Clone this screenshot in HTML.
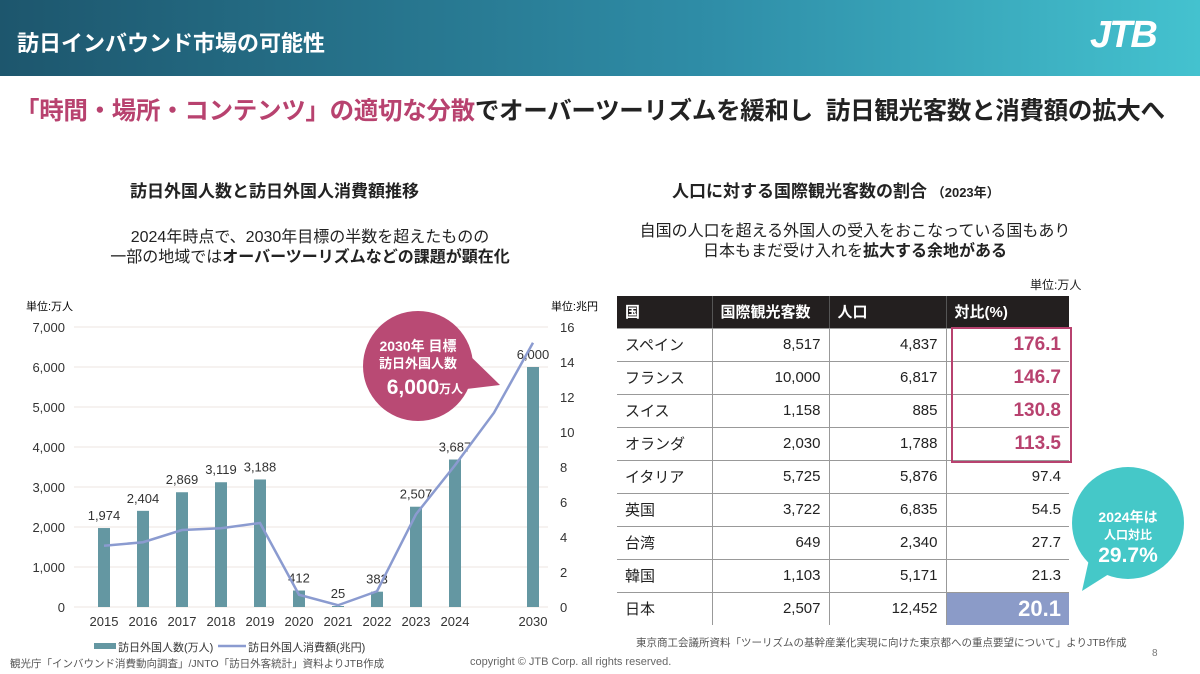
<!DOCTYPE html>
<html><head><meta charset="utf-8"><style>
body{margin:0;width:1200px;height:674px;overflow:hidden;background:#fff;font-family:"Liberation Sans","Noto Sans CJK JP",sans-serif;position:relative;color:#222}
.abs{position:absolute;white-space:nowrap}
table{border-collapse:collapse;position:absolute;left:617px;top:296px;font-size:15px}
td,th{height:33px;padding:0 8px;border-bottom:1px solid #999;box-sizing:border-box}
th{background:#231f1f;color:#fff;text-align:left;font-weight:bold;height:32px;border-right:1px solid #555}
td{text-align:right;border-right:1px solid #999}
td:first-child{text-align:left}
td:last-child{border-right:none}
.pk{color:#b8426f;font-size:19px;font-weight:bold}
</style></head><body>
<div class="abs" style="left:0;top:0;width:1200px;height:76px;background:linear-gradient(90deg,#1d566d,#2f8ea8 60%,#44c2cf)"></div>
<div class="abs" style="left:17px;top:26px;color:#fff;font-size:22px;font-weight:bold">訪日インバウンド市場の可能性</div>
<div class="abs" style="left:1090px;top:14px;color:#fff;font-size:38px;font-weight:bold;font-style:italic;letter-spacing:-2px">JTB</div>
<div class="abs" style="left:15px;top:92px;font-size:24.5px;font-weight:bold;letter-spacing:-0.3px"><span style="color:#b8426f">「時間・場所・コンテンツ」の適切な分散</span>でオーバーツーリズムを緩和し&nbsp; 訪日観光客数と消費額の拡大へ</div>
<div class="abs" style="left:130px;top:177px;font-size:17px;font-weight:bold">訪日外国人数と訪日外国人消費額推移</div>
<div class="abs" style="left:0;width:620px;text-align:center;top:228px;font-size:16px;line-height:20px">2024年時点で、2030年目標の半数を超えたものの<br>一部の地域では<b>オーバーツーリズムなどの課題が顕在化</b></div>
<div class="abs" style="left:672px;top:177px;font-size:17px;font-weight:bold">人口に対する国際観光客数の割合 <span style="font-size:13px">（2023年）</span></div>
<div class="abs" style="left:600px;width:510px;text-align:center;top:222px;font-size:16px;line-height:20px">自国の人口を超える外国人の受入をおこなっている国もあり<br>日本もまだ受け入れを<b>拡大する余地がある</b></div>
<div class="abs" style="left:1030px;top:276px;font-size:12px">単位:万人</div>

<svg id="chart" class="abs" style="left:0;top:290px" width="600" height="384"></svg>

<table>
<tr><th style="width:95px">国</th><th style="width:117px">国際観光客数</th><th style="width:117px">人口</th><th style="width:123px;border-right:none">対比(%)</th></tr>
<tr><td>スペイン</td><td>8,517</td><td>4,837</td><td class="pk">176.1</td></tr>
<tr><td>フランス</td><td>10,000</td><td>6,817</td><td class="pk">146.7</td></tr>
<tr><td>スイス</td><td>1,158</td><td>885</td><td class="pk">130.8</td></tr>
<tr><td>オランダ</td><td>2,030</td><td>1,788</td><td class="pk">113.5</td></tr>
<tr><td>イタリア</td><td>5,725</td><td>5,876</td><td>97.4</td></tr>
<tr><td>英国</td><td>3,722</td><td>6,835</td><td>54.5</td></tr>
<tr><td>台湾</td><td>649</td><td>2,340</td><td>27.7</td></tr>
<tr><td>韓国</td><td>1,103</td><td>5,171</td><td>21.3</td></tr>
<tr><td style="border-bottom:none">日本</td><td style="border-bottom:none">2,507</td><td style="border-bottom:none">12,452</td><td style="background:#8b9bc8;color:#fff;font-size:22px;font-weight:bold;border-bottom:none">20.1</td></tr>
</table>
<div class="abs" style="left:951px;top:327px;width:117px;height:132px;border:2px solid #b8426f"></div>

<svg class="abs" style="left:1060px;top:465px" width="140" height="140">
<circle cx="68" cy="58" r="56" fill="#45c8c8"/><polygon points="30,90 22,126 60,102" fill="#45c8c8"/>
<text x="68" y="57" text-anchor="middle" fill="#fff" font-size="14" font-weight="bold">2024年は</text>
<text x="68" y="74" text-anchor="middle" fill="#fff" font-size="12" font-weight="bold">人口対比</text>
<text x="68" y="97" text-anchor="middle" fill="#fff" font-size="21" font-weight="bold">29.7%</text>
</svg>

<div class="abs" style="left:636px;top:635px;font-size:10.5px;color:#555">東京商工会議所資料「ツーリズムの基幹産業化実現に向けた東京都への重点要望について」よりJTB作成</div>
<div class="abs" style="left:1152px;top:648px;font-size:10px;color:#777">8</div>
<div class="abs" style="left:10px;top:656px;font-size:10.5px;color:#555">観光庁「インバウンド消費動向調査」/JNTO「訪日外客統計」資料よりJTB作成</div>
<div class="abs" style="left:470px;top:656px;font-size:11px;color:#666">copyright © JTB Corp. all rights reserved.</div>

<script>
const categories=["2015","2016","2017","2018","2019","2020","2021","2022","2023","2024","","2030"];
const visitors=[1974,2404,2869,3119,3188,412,25,383,2507,3687,null,6000];
const visitorLabels=["1,974","2,404","2,869","3,119","3,188","412","25","383","2,507","3,687","","6,000"];
const spending=[3.5,3.7,4.4,4.5,4.8,0.7,0.1,0.9,5.3,8.1,11.1,15.1];
const leftTicks=[0,1000,2000,3000,4000,5000,6000,7000];
const leftTickLabels=["0","1,000","2,000","3,000","4,000","5,000","6,000","7,000"];
const rightTicks=[0,2,4,6,8,10,12,14,16];
const NS="http://www.w3.org/2000/svg";
const svg=document.getElementById('chart');
const y0=317,yTop=37;
const yL=v=>y0-(v/7000)*(y0-yTop);
const yR=v=>y0-(v/16)*(y0-yTop);
const x=i=>104+i*39;
function mk(t,a,txt){const e=document.createElementNS(NS,t);for(const k in a)e.setAttribute(k,a[k]);if(txt!==undefined)e.textContent=txt;svg.appendChild(e);return e;}
let e;
e=mk('text',{x:26,y:20,'font-size':11},'単位:万人');

e=mk('text',{x:598,y:20,'font-size':11,'text-anchor':'end'},'単位:兆円');

leftTicks.forEach((t,i)=>{
 e=mk('line',{x1:74,x2:548,y1:yL(t),y2:yL(t),stroke:'#ece4e2','stroke-width':1});
 
 e=mk('text',{x:65,y:yL(t)+5,'font-size':13,'text-anchor':'end',fill:'#333'},leftTickLabels[i]);
 
});
rightTicks.forEach(t=>{
 e=mk('text',{x:560,y:yR(t)+5,'font-size':13,fill:'#333'},String(t));
 
});
categories.forEach((c,i)=>{
 if(visitors[i]!=null){
  e=mk('rect',{x:x(i)-6,y:yL(visitors[i]),width:12,height:y0-yL(visitors[i]),fill:'#6497a2'});
  
  e=mk('text',{x:x(i),y:yL(visitors[i])-8,'font-size':13,'text-anchor':'middle',fill:'#333'},visitorLabels[i]);
  
 }
 if(c){e=mk('text',{x:x(i),y:y0+19,'font-size':13,'text-anchor':'middle',fill:'#333'},c);
 }
});
e=mk('polyline',{points:spending.map((v,i)=>x(i)+','+yR(v)).join(' '),fill:'none',stroke:'#8b9bd0','stroke-width':2.5});

e=mk('circle',{cx:418,cy:76,r:55,fill:'#b94a74'});

mk('polygon',{points:'462,58 500,95 458,100',fill:'#b94a74'});
mk('text',{x:418,y:61,'font-size':14,'font-weight':'bold','text-anchor':'middle',fill:'#fff'},'2030年 目標');
mk('text',{x:418,y:78,'font-size':13,'font-weight':'bold','text-anchor':'middle',fill:'#fff'},'訪日外国人数');
mk('text',{x:413,y:104,'font-size':21,'font-weight':'bold','text-anchor':'middle',fill:'#fff'},'6,000');
mk('text',{x:451,y:103,'font-size':12,'font-weight':'bold','text-anchor':'middle',fill:'#fff'},'万人');
e=mk('rect',{x:94,y:353,width:22,height:6,fill:'#6497a2'});

mk('text',{x:118,y:361,'font-size':11,fill:'#333'},'訪日外国人数(万人)');
e=mk('line',{x1:218,x2:246,y1:356,y2:356,stroke:'#8b9bd0','stroke-width':2.5});

mk('text',{x:248,y:361,'font-size':11,fill:'#333'},'訪日外国人消費額(兆円)');
</script>
</body></html>
